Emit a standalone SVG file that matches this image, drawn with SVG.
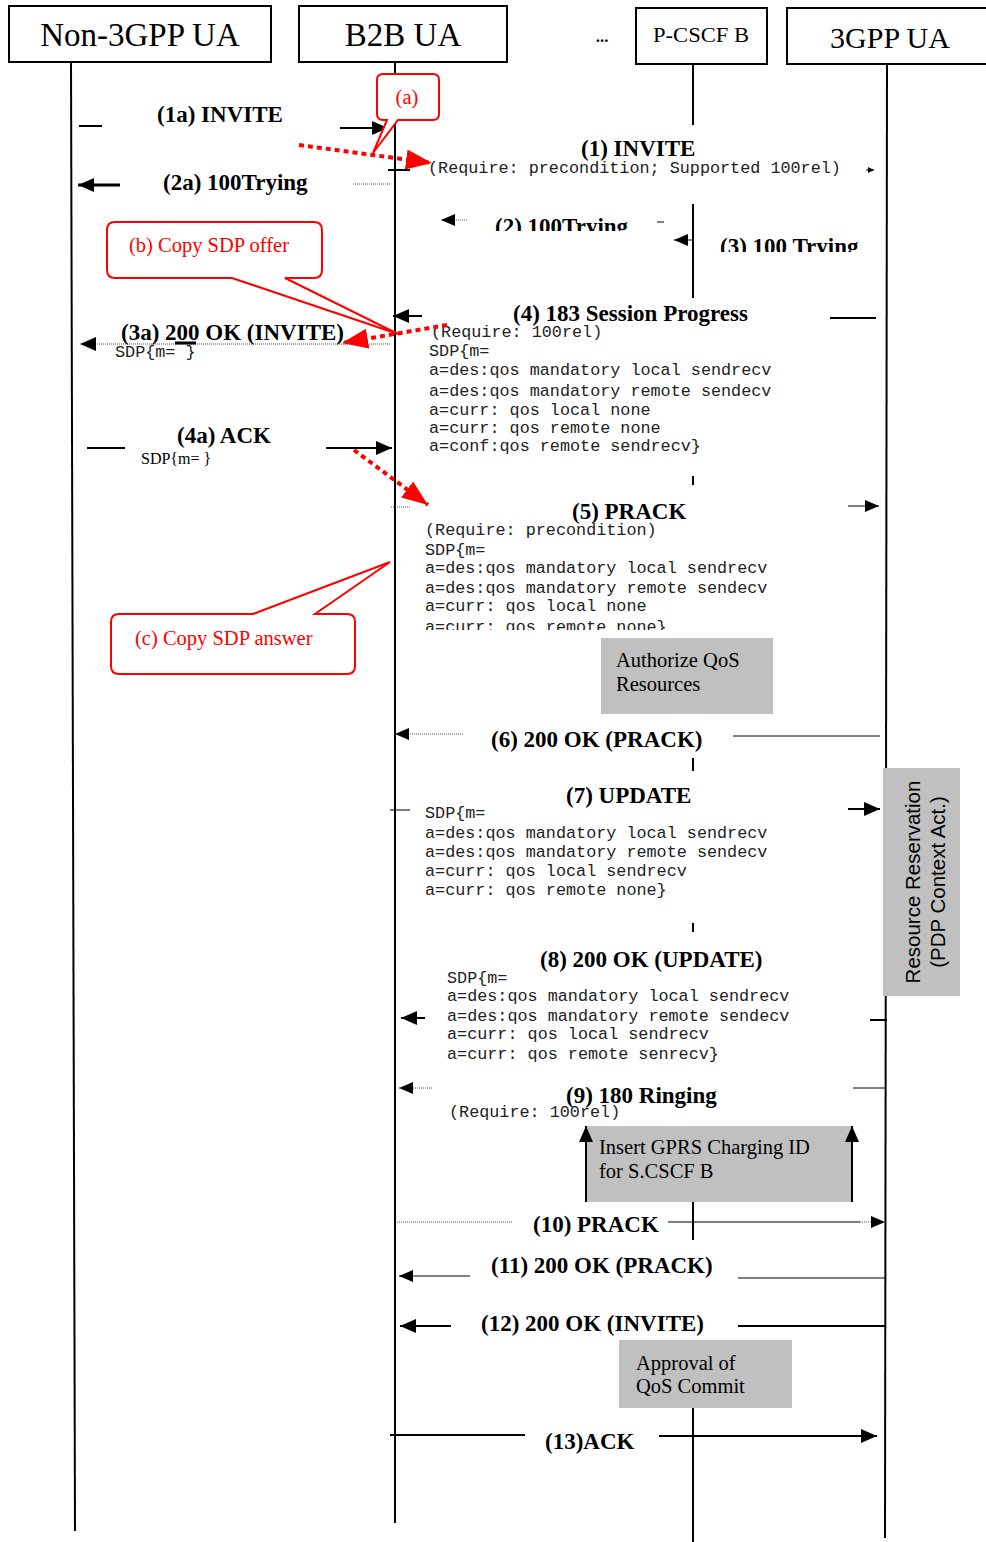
<svg xmlns="http://www.w3.org/2000/svg" width="986" height="1542" viewBox="0 0 986 1542">
<style>
.hd{font-family:"Liberation Serif",serif;fill:#000}
.lb{font-family:"Liberation Serif",serif;font-weight:bold;font-size:23px;fill:#000}
.mo{font-family:"Liberation Mono",monospace;font-size:16.8px;fill:#222}
.rt{font-family:"Liberation Serif",serif;font-size:20.5px;fill:#ff0000}
.gt{font-family:"Liberation Serif",serif;font-size:20.5px;fill:#000}
.box{fill:#fff;stroke:#000;stroke-width:2}
.life{stroke:#000;stroke-width:2;fill:none}
.ln{stroke:#000;stroke-width:2;fill:none}
.thin{stroke:#000;stroke-width:1;fill:none}
.dot{stroke:#555;stroke-width:1;stroke-dasharray:1 1;fill:none}
.red{stroke:#ff0000;stroke-width:4;stroke-dasharray:5 4;fill:none}
.call{fill:#fff;stroke:#ff0000;stroke-width:2}
.gray{fill:#c0c0c0;stroke:none}
</style>
<defs>
<marker id="ah" markerUnits="userSpaceOnUse" markerWidth="16" markerHeight="14" refX="16" refY="7" orient="auto"><path d="M0,0 L16,7 L0,14 Z" fill="#000"/></marker>
<marker id="as" markerUnits="userSpaceOnUse" markerWidth="14" markerHeight="12" refX="14" refY="6" orient="auto"><path d="M0,0 L14,6 L0,12 Z" fill="#000"/></marker>
<marker id="at" markerUnits="userSpaceOnUse" markerWidth="6" markerHeight="6" refX="6" refY="3" orient="auto"><path d="M0,0 L6,3 L0,6 Z" fill="#000"/></marker>
<marker id="ar" markerUnits="userSpaceOnUse" markerWidth="26" markerHeight="20" refX="26" refY="10" orient="auto"><path d="M0,0 L26,10 L0,20 Z" fill="#ff0000"/></marker>
<clipPath id="c2"><rect x="480" y="200" width="200" height="31"/></clipPath>
<clipPath id="c3"><rect x="700" y="225" width="200" height="27"/></clipPath>
<clipPath id="c5"><rect x="415" y="612" width="400" height="18"/></clipPath>
</defs>

<g id="node-non3gpp">
<rect class="box" x="9" y="6" width="262" height="56"/>
<text class="hd" x="140" y="46" font-size="33" text-anchor="middle">Non-3GPP UA</text>
<line class="life" x1="71" y1="62" x2="75" y2="1531"/>
</g>
<g id="node-b2b">
<rect class="box" x="299" y="6" width="208" height="56"/>
<text class="hd" x="403" y="46" font-size="33" text-anchor="middle">B2B UA</text>
<line class="life" x1="395" y1="62" x2="395" y2="1523"/>
</g>
<g id="node-dots">
<text class="hd" x="602" y="42" font-size="17" font-weight="bold" text-anchor="middle">...</text>
</g>
<g id="node-pcscf">
<rect class="box" x="636" y="8" width="131" height="56"/>
<text class="hd" x="701" y="42" font-size="21" text-anchor="middle" textLength="96" lengthAdjust="spacingAndGlyphs">P-CSCF B</text>
<path class="life" d="M693,64 V125 M693,204 V298 M693,476 V485 M693,758 V771 M693,923 V932 M693,1202 V1240 M693,1408 V1542"/>
</g>
<g id="node-3gpp">
<rect class="box" x="787" y="8" width="210" height="56"/>
<text class="hd" x="890" y="48" font-size="30" text-anchor="middle">3GPP UA</text>
<line class="life" x1="887" y1="64" x2="885" y2="1538"/>
</g>

<g id="connectors">
<!-- (1a) -->
<line class="ln" x1="79" y1="126" x2="102" y2="126"/>
<line class="ln" x1="340" y1="128" x2="388" y2="128" marker-end="url(#ah)"/>
<!-- (1) -->
<line class="ln" x1="388" y1="170" x2="410" y2="170"/>
<line class="thin" x1="866" y1="170" x2="874" y2="170" marker-end="url(#at)"/>
<!-- (2a) -->
<line x1="120" y1="185" x2="78" y2="185" stroke="#000" stroke-width="3" marker-end="url(#ah)"/>
<line class="dot" x1="353" y1="184" x2="390" y2="184"/>
<!-- (2) -->
<line class="dot" x1="467" y1="220" x2="441" y2="220" marker-end="url(#as)"/>
<line class="thin" x1="657" y1="222" x2="664" y2="222"/>
<!-- (3) -->
<line class="thin" x1="692" y1="240" x2="674" y2="240" marker-end="url(#as)"/>
<!-- (4) -->
<line class="ln" x1="422" y1="316" x2="393" y2="316" marker-end="url(#ah)"/>
<line class="ln" x1="830" y1="318" x2="876" y2="318"/>
<!-- (3a) -->
<line class="dot" x1="390" y1="344" x2="80" y2="344" marker-end="url(#ah)"/>
<line x1="175" y1="343" x2="196" y2="343" stroke="#000" stroke-width="3"/>
<!-- (4a) -->
<line class="ln" x1="87" y1="448" x2="125" y2="448"/>
<line class="ln" x1="326" y1="448" x2="392" y2="448" marker-end="url(#ah)"/>
<line class="dot" x1="391" y1="507" x2="410" y2="507"/>
<!-- (5) -->
<line class="thin" x1="848" y1="506" x2="879" y2="506" marker-end="url(#as)"/>
<!-- (6) -->
<line class="dot" x1="463" y1="734" x2="395" y2="734" marker-end="url(#as)"/>
<line class="thin" x1="733" y1="736" x2="880" y2="736"/>
<!-- (7) -->
<line class="thin" x1="390" y1="810" x2="410" y2="810"/>
<line class="ln" x1="848" y1="809" x2="880" y2="809" marker-end="url(#ah)"/>
<!-- (8) -->
<line class="ln" x1="425" y1="1018" x2="401" y2="1018" marker-end="url(#ah)"/>
<line class="ln" x1="870" y1="1020" x2="887" y2="1020"/>
<!-- (9) -->
<line class="dot" x1="432" y1="1088" x2="399" y2="1088" marker-end="url(#as)"/>
<line class="thin" x1="853" y1="1088" x2="885" y2="1088"/>
<!-- (10) -->
<line class="dot" x1="397" y1="1222" x2="512" y2="1222"/>
<line class="thin" x1="668" y1="1222" x2="860" y2="1222"/>
<line class="dot" x1="860" y1="1222" x2="885" y2="1222" marker-end="url(#as)"/>
<!-- (11) -->
<line class="thin" x1="470" y1="1276" x2="399" y2="1276" marker-end="url(#as)"/>
<line class="thin" x1="738" y1="1278" x2="885" y2="1278"/>
<!-- (12) -->
<line class="ln" x1="451" y1="1326" x2="400" y2="1326" marker-end="url(#ah)"/>
<line class="ln" x1="738" y1="1326" x2="885" y2="1326"/>
<!-- (13) -->
<line class="ln" x1="390" y1="1435" x2="525" y2="1435"/>
<line class="ln" x1="659" y1="1436" x2="877" y2="1436" marker-end="url(#ah)"/>
</g>

<g id="labels">
<text class="lb" x="157" y="122">(1a) INVITE</text>
<text class="lb" x="581" y="156">(1) INVITE</text>
<text class="mo" x="428" y="173">(Require: precondition; Supported 100rel)</text>
<text class="lb" x="163" y="190">(2a) 100Trying</text>
<text class="lb" x="495" y="234" clip-path="url(#c2)">(2) 100Trying</text>
<text class="lb" x="720" y="254" clip-path="url(#c3)">(3) 100 Trying</text>
<text class="lb" x="513" y="321">(4) 183 Session Progress</text>
<text class="mo" x="431" y="337">(Require: 100rel)</text>
<text class="mo" x="429" y="356">SDP{m=</text>
<text class="mo" x="429" y="375">a=des:qos mandatory local sendrecv</text>
<text class="mo" x="429" y="396">a=des:qos mandatory remote sendecv</text>
<text class="mo" x="429" y="415">a=curr: qos local none</text>
<text class="mo" x="429" y="433">a=curr: qos remote none</text>
<text class="mo" x="429" y="451">a=conf:qos remote sendrecv}</text>
<text class="lb" x="121" y="340">(3a) 200 OK (INVITE)</text>
<text class="mo" x="115" y="357" font-size="14.8">SDP{m=  }</text>
<text class="lb" x="177" y="443">(4a) ACK</text>
<text class="hd" x="141" y="464" font-size="16">SDP{m= }</text>
<text class="lb" x="572" y="519">(5) PRACK</text>
<text class="mo" x="425" y="535">(Require: precondition)</text>
<text class="mo" x="425" y="555">SDP{m=</text>
<text class="mo" x="425" y="573">a=des:qos mandatory local sendrecv</text>
<text class="mo" x="425" y="593">a=des:qos mandatory remote sendecv</text>
<text class="mo" x="425" y="611">a=curr: qos local none</text>
<text class="mo" x="425" y="632" clip-path="url(#c5)">a=curr: qos remote none}</text>
<text class="lb" x="491" y="747">(6) 200 OK (PRACK)</text>
<text class="lb" x="566" y="803">(7) UPDATE</text>
<text class="mo" x="425" y="818">SDP{m=</text>
<text class="mo" x="425" y="838">a=des:qos mandatory local sendrecv</text>
<text class="mo" x="425" y="857">a=des:qos mandatory remote sendecv</text>
<text class="mo" x="425" y="876">a=curr: qos local sendrecv</text>
<text class="mo" x="425" y="895">a=curr: qos remote none}</text>
<text class="lb" x="540" y="967">(8) 200 OK (UPDATE)</text>
<text class="mo" x="447" y="983">SDP{m=</text>
<text class="mo" x="447" y="1001">a=des:qos mandatory local sendrecv</text>
<text class="mo" x="447" y="1021">a=des:qos mandatory remote sendecv</text>
<text class="mo" x="447" y="1039">a=curr: qos local sendrecv</text>
<text class="mo" x="447" y="1059">a=curr: qos remote senrecv}</text>
<text class="lb" x="566" y="1103">(9) 180 Ringing</text>
<text class="mo" x="449" y="1117">(Require: 100rel)</text>
<text class="lb" x="533" y="1232">(10) PRACK</text>
<text class="lb" x="491" y="1273">(11) 200 OK (PRACK)</text>
<text class="lb" x="481" y="1331">(12) 200 OK (INVITE)</text>
<text class="lb" x="545" y="1449">(13)ACK</text>
</g>

<g id="note-authorize">
<rect class="gray" x="601" y="638" width="172" height="76"/>
<text class="gt" x="616" y="667">Authorize QoS</text>
<text class="gt" x="616" y="691">Resources</text>
</g>
<g id="note-resource">
<rect class="gray" x="883" y="768" width="77" height="228"/>
<text transform="translate(920,882) rotate(-90)" text-anchor="middle" font-family="Liberation Sans, Arial, sans-serif" font-size="20.5" fill="#000">Resource Reservation</text>
<text transform="translate(945,882) rotate(-90)" text-anchor="middle" font-family="Liberation Sans, Arial, sans-serif" font-size="20.5" fill="#000">(PDP Context Act.)</text>
</g>
<g id="note-charging">
<rect class="gray" x="586" y="1126" width="266" height="76"/>
<line class="ln" x1="586" y1="1202" x2="586" y2="1126" marker-end="url(#ah)"/>
<line class="ln" x1="852" y1="1202" x2="852" y2="1126" marker-end="url(#ah)"/>
<text class="gt" x="599" y="1154">Insert GPRS Charging ID</text>
<text class="gt" x="599" y="1178">for S.CSCF B</text>
</g>
<g id="note-approval">
<rect class="gray" x="619" y="1340" width="173" height="68"/>
<text class="gt" x="636" y="1370">Approval of</text>
<text class="gt" x="636" y="1393">QoS Commit</text>
</g>

<g id="callout-a">
<path class="call" d="M383,74 H433 Q439,74 439,80 V114 Q439,120 433,120 H398 L373,153 L387,120 H383 Q377,120 377,114 V80 Q377,74 383,74 Z"/>
<text class="rt" x="407" y="104" text-anchor="middle">(a)</text>
</g>
<g id="callout-b">
<path class="call" d="M115,222 H314 Q322,222 322,230 V270 Q322,278 314,278 H285 L398,334 L232,278 H115 Q107,278 107,270 V230 Q107,222 115,222 Z"/>
<text class="rt" x="129" y="252">(b) Copy SDP offer</text>
</g>
<g id="callout-c">
<path class="call" d="M119,614 H253 L390,562 L315,614 H347 Q355,614 355,622 V666 Q355,674 347,674 H119 Q111,674 111,666 V622 Q111,614 119,614 Z"/>
<text class="rt" x="135" y="645">(c) Copy SDP answer</text>
</g>

<g id="red-arrows">
<line class="red" x1="299" y1="145" x2="432" y2="163" marker-end="url(#ar)"/>
<line class="red" x1="447" y1="325" x2="342" y2="343" marker-end="url(#ar)"/>
<line class="red" x1="354" y1="450" x2="428" y2="505" marker-end="url(#ar)"/>
</g>
</svg>
